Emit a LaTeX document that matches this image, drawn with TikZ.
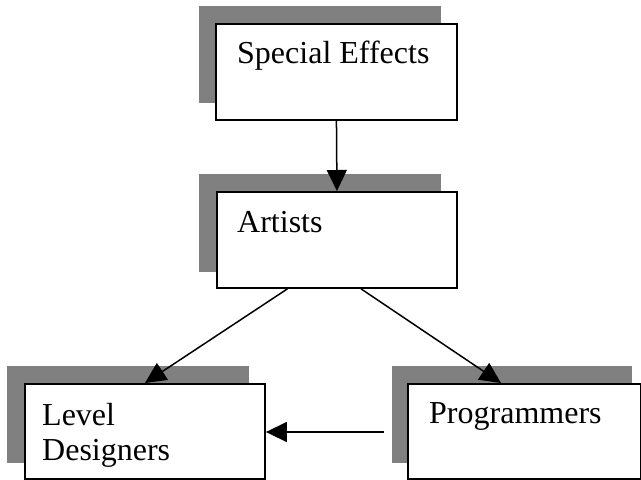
\documentclass[tikz,border=0pt]{standalone}
\usepackage{fontspec}
\setmainfont{Liberation Serif}
\usetikzlibrary{arrows.meta,calc}
\definecolor{shade}{RGB}{128,128,128}
\tikzset{
  box/.style={draw=black, fill=white, line width=1.9pt, minimum width=241pt, minimum height=96pt, anchor=north west, inner sep=0pt},
  shadowbox/.style={fill=shade},
  lbl/.style={anchor=base west, inner sep=0pt, font=\fontsize{32}{35}\selectfont},
  arr/.style={line width=1.5pt, -{Triangle[length=21pt,width=20pt]}}
}
\begin{document}
\begin{tikzpicture}[x=1pt,y=1pt]
\useasboundingbox (0,0) rectangle (641,-480);
% shadows
\fill[shadowbox] (199,-6) rectangle (441,-103);
\fill[shadowbox] (199,-174) rectangle (441,-272);
\fill[shadowbox] (7,-366) rectangle (249,-463);
\fill[shadowbox] (392,-366) rectangle (632,-463);
% boxes
\node[box] (se) at (215,-23) {};
\node[box, minimum width=240pt] (art) at (216,-191) {};
\node[box, minimum width=240pt, minimum height=95pt] (lvl) at (24,-383) {};
\node[box, minimum width=233pt, minimum height=95pt] (prog) at (407,-383) {};
% labels
\node[lbl] (set) at (237,-63) {Special Effects};
\node[lbl] (artt) at (237,-232) {Artists};
\node[lbl] (lvlt1) at (42,-425) {Level};
\node[lbl] (lvlt2) at (42,-460) {Designers};
\node[lbl] (progt) at (429,-423) {Programmers};
% connectors
\draw[arr] (se.south) -- (art.north);
\draw[arr] ($(art.south)!0.41!(art.south west)$) -- (lvl.north);
\draw[arr] ($(art.south)!0.2!(art.south east)$) -- ($(prog.north)!0.2!(prog.north west)$);
\coordinate (ptail) at (384,-432);
\draw[arr] (ptail) -- (lvl.east |- ptail);
\end{tikzpicture}
\end{document}
